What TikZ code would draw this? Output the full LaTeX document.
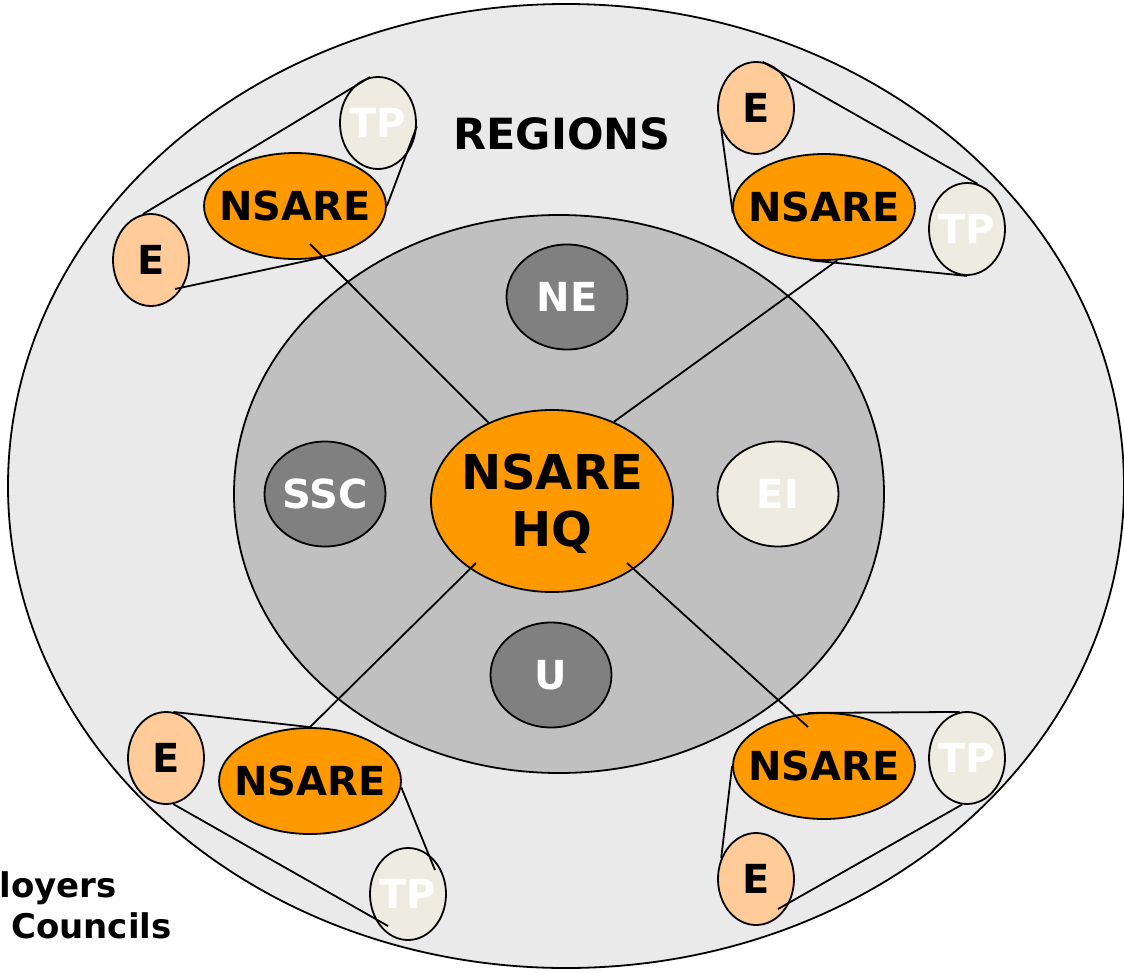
\documentclass[tikz,border=0pt]{standalone}
\usepackage{fontspec}
\setmainfont{DejaVu Sans}
\usetikzlibrary{shapes.geometric,calc}
\definecolor{outerfill}{HTML}{EAEAEA}
\definecolor{innerfill}{HTML}{C0C0C0}
\definecolor{darkfill}{HTML}{808080}
\definecolor{orangefill}{HTML}{FF9900}
\definecolor{peachfill}{HTML}{FFCC99}
\definecolor{beigefill}{HTML}{EEECE1}
\begin{document}
\begin{tikzpicture}[x=1pt,y=-1pt,
  bub/.style={ellipse,draw=black,line width=1.8pt,inner sep=0pt},
  bigbub/.style={bub,minimum width=182pt,minimum height=106pt,fill=orangefill},
  smlbub/.style={bub,minimum width=76pt,minimum height=92pt},
  midbub/.style={bub,minimum width=121pt,minimum height=105pt},
  ebub/.style={smlbub,fill=peachfill},
  tpbub/.style={smlbub,fill=beigefill},
  lbl/.style={font=\fontsize{40}{48}\selectfont\bfseries},
  link/.style={line width=1.8pt},
  plain/.style={font=\fontsize{34}{40}\selectfont\bfseries,inner sep=0pt}]
\useasboundingbox (0,0) rectangle (1124,972);

% background ellipses
\node[bub,fill=outerfill,minimum width=1116pt,minimum height=964pt] (outer) at (566,486) {};
\node[bub,fill=innerfill,minimum width=650pt,minimum height=558pt] (inner) at (559,494) {};

% title
\node[font=\fontsize{43}{50}\selectfont\bfseries] (regions) at (562,134) {REGIONS};

% central ring
\node[bub,fill=orangefill,minimum width=242pt,minimum height=182pt,
  label={[font=\fontsize{48}{57}\selectfont\bfseries,align=center,yshift=-3pt]center:NSARE\\HQ}] (hq) at (552,501) {};
\node[midbub,fill=darkfill,label={[lbl,text=white]center:NE}] (ne) at (567,297) {};
\node[midbub,fill=darkfill,label={[lbl,text=white]center:SSC}] (ssc) at (325,494) {};
\node[midbub,fill=beigefill,label={[lbl,text=white]center:EI}] (ei) at (778,494) {};
\node[midbub,fill=darkfill,label={[lbl,text=white]center:U}] (u) at (551,675) {};

% top-left cluster
\node[tpbub,label={[lbl,text=white]center:TP}] (tltp) at (378,123) {};
\node[bigbub,label={[lbl]center:NSARE}] (tln) at (295,206) {};
\node[ebub,label={[lbl]center:E}] (tle) at (151,260) {};

% top-right cluster
\node[ebub,label={[lbl]center:E}] (tre) at (756,108) {};
\node[bigbub,label={[lbl]center:NSARE}] (trn) at (824,207) {};
\node[tpbub,label={[lbl,text=white]center:TP}] (trtp) at (967,229) {};

% bottom-left cluster
\node[ebub,label={[lbl]center:E}] (ble) at (166,758) {};
\node[bigbub,label={[lbl]center:NSARE}] (bln) at (310,781) {};
\node[tpbub,label={[lbl,text=white]center:TP}] (bltp) at (408,894) {};

% bottom-right cluster
\node[bigbub,label={[lbl]center:NSARE}] (brn) at (824,766) {};
\node[tpbub,label={[lbl,text=white]center:TP}] (brtp) at (967,758) {};
\node[ebub,label={[lbl]center:E}] (bre) at (756,879) {};

% connectors: top-left
\draw[link] (tle.100) -- (tltp.100);
\draw[link] (tltp.-5) -- (tln.0);
\draw[link] ($(tle.center)+(24,29)$) -- (tln.-62);
\draw[link] ($(tln.center)+(15,38)$) -- (hq.129);

% connectors: top-right
\draw[link] (tre.82) -- (trtp.77);
\draw[link] (tre.211) -- (trn.184);
\draw[link] (trn.255) -- (trtp.270);
\draw[link] (trn.-76) -- (hq.52);

% connectors: bottom-left
\draw[link] (ble.81) -- (bln.90);
\draw[link] (bln.-4) -- ($(bltp.center)+(27,-24)$);
\draw[link] (ble.-81) -- ($(bltp.center)+(-20,32)$);
\draw[link] ($(hq.center)+(-76,62)$) -- (bln.90);

% connectors: bottom-right
\draw[link] (brn.107) -- (brtp.99);
\draw[link] (brn.180) -- (bre.149);
\draw[link] (brtp.264) -- ($(bre.center)+(22,30)$);
\draw[link] ($(hq.center)+(75,62)$) -- ($(brn.center)+(-16,-39)$);

% cut-off side text
\node[plain,anchor=base east] (emp) at (117,897) {loyers};
\node[plain,anchor=base west] (sec) at (11,938) {Councils};
\end{tikzpicture}
\end{document}
